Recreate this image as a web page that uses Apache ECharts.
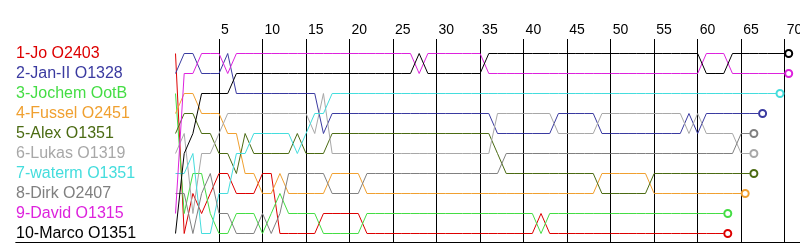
<!DOCTYPE html>
<html><head><meta charset="utf-8">
<script src="https://cdn.jsdelivr.net/npm/echarts@6/dist/echarts.min.js"></script>
<style>html,body{margin:0;padding:0;background:#fff}#c{width:800px;height:247px}</style>
</head><body><div id="c"></div>
<script>
// Driver names (lane order) and colours
const names = ['1-Jo O2403','2-Jan-II O1328','3-Jochem OotB','4-Fussel O2451','5-Alex O1351','6-Lukas O1319','7-waterm O1351','8-Dirk O2407','9-David O1315','10-Marco O1351'];
const colors = ['#dd0000','#3a3aa0','#44dd44','#f0a030','#4b6b13','#a8a8a8','#44dddd','#808080','#dd22dd','#000000'];
const lapTicks = [5,10,15,20,25,30,35,40,45,50,55,60,65,70];

// Position of each driver at lap 0,1,2,... (index = lap)
const pJo = [1,10,8,9,8,7,7,8,8,8,7,7,10,10,10,10,10,9,9,9,9,9,
  10,10,10,10,10,10,10,10,10,10,10,10,10,10,10,10,10,10,10,10,
  9,
  10,10,10,10,10,10,10,10,10,10,10,10,10,10,10,10,10,10,10,10,10];
const pJan = [2,1,1,2,2,2,1,3,3,3,3,3,3,3,3,3,3,5,
  4,4,4,4,4,4,4,4,4,4,4,4,4,4,4,4,4,4,4,
  5,5,5,5,5,5,5,
  4,4,4,4,4,
  5,5,5,5,5,5,5,5,5,5,
  4,5,
  4,4,4,4,4,4,4];
const pJochem = [3,9,7,7,9,10,10,9,9,9,10,9,8,9,9,9,9,
  10,10,10,10,10,
  9,9,9,9,9,9,9,9,9,9,9,9,9,9,9,9,9,9,9,9,
  10,
  9,9,9,9,9,9,9,9,9,9,9,9,9,9,9,9,9,9,9,9,9];
const pFussel = [4,3,3,4,4,4,5,5,7,7,8,8,7,8,
  8,8,8,8,
  7,7,7,7,
  8,8,8,8,8,8,8,8,8,8,8,8,8,8,8,8,8,8,8,8,8,8,8,8,8,8,8,
  7,7,7,7,7,7,
  8,8,8,8,8,8,8,8,8,8,8];
const pAlex = [5,4,4,5,5,6,6,7,5,6,6,6,6,6,5,6,6,6,
  5,5,5,5,5,5,5,5,5,5,5,5,5,5,5,5,5,5,5,
  6,
  7,7,7,7,7,7,7,7,7,7,7,
  8,8,8,8,8,8,
  7,7,7,7,7,7,7,7,7,7,7,7];
const pLukas = [6,5,9,6,6,5,4,
  4,4,4,4,4,4,4,4,4,
  5,3,
  6,6,6,6,6,6,6,6,6,6,6,6,6,6,6,6,6,6,6,
  4,4,4,4,4,4,4,
  5,5,5,5,5,
  4,4,4,4,4,4,4,4,4,4,
  5,4,
  5,5,5,5,
  6,6];
const pWaterm = [7,7,6,10,10,8,8,6,6,5,5,5,5,5,6,5,4,4,
  3,3,3,3,3,3,3,3,3,3,3,3,3,3,3,3,3,3,3,3,3,3,3,3,3,3,3,3,3,3,3,3,3,3,
  3,3,3,3,3,3,3,3,3,3,3,3,3,3,3,3,3,3];
const pDirk = [8,8,10,8,7,9,9,10,10,10,9,10,9,7,
  7,7,7,7,
  8,8,8,8,
  7,7,7,7,7,7,7,7,7,7,7,7,7,7,7,7,
  6,6,6,6,6,6,6,6,6,6,6,6,6,6,6,6,6,6,6,6,6,6,6,6,6,6,6,
  5,5];
const pDavid = [9,2,2,1,1,1,2,
  1,1,1,1,1,1,1,1,1,1,1,1,1,1,1,1,1,1,1,1,1,
  2,
  1,1,1,1,1,1,1,
  2,2,2,2,2,2,2,2,2,2,2,2,2,2,2,2,2,2,2,2,2,2,2,2,2,
  1,1,1,
  2,2,2,2,2,2,2];
const pMarco = [10,6,5,3,3,3,3,
  2,2,2,2,2,2,2,2,2,2,2,2,2,2,2,2,2,2,2,2,2,
  1,
  2,2,2,2,2,2,2,
  1,1,1,1,1,1,1,1,1,1,1,1,1,1,1,1,1,1,1,1,1,1,1,1,1,
  2,2,2,
  1,1,1,1,1,1,1];

const positions = [pJo,pJan,pJochem,pFussel,pAlex,pLukas,pWaterm,pDirk,pDavid,pMarco];

const rich = {};
names.forEach((n,i)=>{ rich['d'+i] = {color: colors[i], fontFamily:'Liberation Sans', fontSize:16}; });

const series = positions.map((arr, i) => ({
  type: 'line',
  xAxisIndex: 0, yAxisIndex: 0,
  clip: false,
  silent: true,
  data: arr.map((p, lap) => lap === arr.length - 1
      ? {value:[lap, p], symbol:'emptyCircle', symbolSize:7, symbolOffset:[4,0]}
      : {value:[lap, p], symbol:'none'}),
  symbol: 'none',
  showSymbol: true,
  lineStyle: {color: colors[i], width: 1},
  itemStyle: {color: colors[i], borderColor: colors[i], borderWidth: 1},
  z: 3
}));

const chart = echarts.init(document.getElementById('c'), null, {renderer:'canvas'});
chart.setOption({
  animation: false,
  backgroundColor: '#ffffff',
  grid: [
    {left: 175.5, right: 15.3, top: 33.5, height: 220, outerBoundsMode: 'none', containLabel: false},
    {left: 175.5, right: 15.3, top: 39, height: 204, outerBoundsMode: 'none', containLabel: false},
    {left: 16, right: 0, top: 39, height: 203, outerBoundsMode: 'none', containLabel: false}
  ],
  xAxis: [
    {gridIndex:0, type:'value', min:0, max:70, show:false},
    {gridIndex:1, type:'value', min:0, max:70, interval:5, position:'top',
      axisLine:{show:false}, axisTick:{show:false},
      axisLabel:{show:true, align:'left', margin:2, color:'#000', fontFamily:'Liberation Sans', fontSize:14, padding:[0,0,0,2],
        formatter: v => lapTicks.indexOf(v) >= 0 ? String(v) : ''},
      splitLine:{show:true, showMinLine:false, showMaxLine:true, lineStyle:{color:'#000', width:1}}},
    {gridIndex:2, type:'value', min:0, max:1, position:'top',
      axisLine:{show:true, lineStyle:{color:'#000', width:1}}, axisTick:{show:false}, axisLabel:{show:false}, splitLine:{show:false}},
    {gridIndex:2, type:'value', min:0, max:1, position:'bottom',
      axisLine:{show:true, onZero:false, lineStyle:{color:'#000', width:1}}, axisTick:{show:false}, axisLabel:{show:false}, splitLine:{show:false}}
  ],
  yAxis: [
    {gridIndex:0, type:'value', min:0, max:11, interval:1, inverse:true,
      axisLine:{show:false}, axisTick:{show:false}, splitLine:{show:false},
      axisLabel:{show:true, align:'left', margin:159.5,
        formatter: v => (v >= 1 && v <= 10) ? '{d' + (v-1) + '|' + names[v-1] + '}' : '',
        rich: rich}},
    {gridIndex:1, type:'value', min:0, max:1, show:false},
    {gridIndex:2, type:'value', min:0, max:1, show:false}
  ],
  series: series
});
</script>
</body></html>
